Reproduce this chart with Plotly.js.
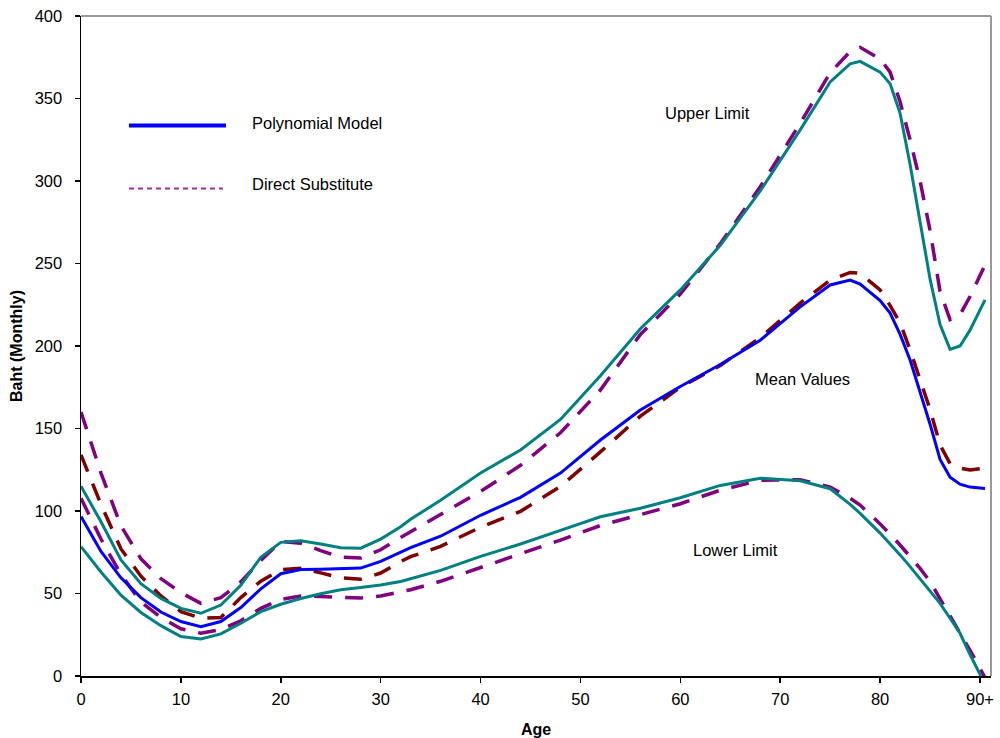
<!DOCTYPE html>
<html>
<head>
<meta charset="utf-8">
<script src="https://cdn.plot.ly/plotly-3.0.1.min.js"></script>
<style>html,body{margin:0;padding:0;background:#fff;}#chart{width:1000px;height:738px;}</style>
</head>
<body>
<div id="chart"></div>
<script>
// Age grid (years)
const ages = [0,2,4,6,8,10,12,14,16,18,20,22,24,26,28,30,32,33,36,40,44,48,52,56,60,64,68,72,75,77,78,80,81,82,83,84,85,86,87,88,89,90.5];

// Polynomial model
const upperPoly = [115,93.5,70.3,56,47,41,38,43,55,72,81,82,80,77.7,77.5,83,90.5,95,106.5,123,137,155.5,182,210.5,234,261,294,331,360,371,372.5,366,359,341,310,276,240.5,213,198,200,209.6,228];
const meanPoly  = [96.6,75.5,59.5,47.5,38.8,33,29.9,33,41.5,52.8,62,64.5,64.7,64.9,65.4,69.5,75,77.8,84.7,97.4,108.3,123,143,161.2,175.5,188.8,203.5,223.7,237,240,237.5,227.5,220,207,191.5,172.4,152.6,131.2,120.5,116.3,114.5,113.7];
const lowerPoly = [78.4,63,49,38.5,30.5,23.9,22.5,25.5,32,39,43.5,47,49.8,52.3,53.6,55.2,57.3,58.9,64,72.5,80,88.3,96.5,101.7,108,115.5,119.9,118.3,113.5,104,98.6,86.6,80.3,73.4,66.3,59,51.5,44,35,25.9,13,-5];

// Direct substitute
const upperDirect = [160,123,91,71,59,50.5,44,47.5,57,70,81.5,80.5,76,72,71.5,76.5,84,87.5,97.5,111.8,127.7,147.4,173.3,207,231.5,262,296.5,335,365.6,378.5,381,374,366,348,325,300,270,233,216,219,230,249];
const meanDirect  = [134,104,77,60.5,48.5,39,35,35.5,47.5,57.5,64.5,65.3,62.5,59.5,58.6,62.4,69.4,72.3,78.6,90.2,99.8,114.9,135.8,157.5,175,188.2,205,226,240,244.6,244,234,224.5,214,197.6,179.6,161.5,140,128.7,126,124.8,126];
const lowerDirect = [107.7,83,61.5,44.8,35.5,28.6,25.9,28.2,33.5,41,46.4,48.5,48.2,47.8,47.2,48.5,50.7,52.3,57.4,65.7,73.9,82.4,91.2,97.8,104.4,112.6,118.6,119,114.5,107.7,103.6,92.2,86,79.4,72.3,65.2,57.2,47,37,26.5,15.6,-1];

const xTickVals = [0,10,20,30,40,50,60,70,80,90];
const xTickText = ['0','10','20','30','40','50','60','70','80','90+'];
const yTickVals = [0,50,100,150,200,250,300,350,400];

const TEAL = '#008080', BLUE = '#0000FF', PURPLE = '#800080', DRED = '#800000';
const dashed = '18px,13px';

function tr(y, color, width, dash, name) {
  return {x: ages, y: y, type: 'scatter', mode: 'lines', name: name, showlegend: false,
          line: {color: color, width: width, dash: dash || 'solid'}, hoverinfo: 'skip'};
}

const data = [
  tr(upperDirect, PURPLE, 3.5, dashed, 'Upper Limit (Direct Substitute)'),
  tr(meanDirect, DRED, 3.5, dashed, 'Mean Values (Direct Substitute)'),
  tr(lowerDirect, PURPLE, 3.5, dashed, 'Lower Limit (Direct Substitute)'),
  tr(upperPoly, TEAL, 3, null, 'Upper Limit (Polynomial Model)'),
  tr(lowerPoly, TEAL, 3, null, 'Lower Limit (Polynomial Model)'),
  tr(meanPoly, BLUE, 3, null, 'Mean Values (Polynomial Model)')
];

const FONT = 'Liberation Sans, Arial, sans-serif';

// helpers to convert pixel positions within the plot area to paper fractions
const L = 81, R = 991, T = 16, B = 676;
const px = v => (v - L) / (R - L);
const py = v => (B - v) / (B - T);

const layout = {
  width: 1000, height: 738,
  margin: {l: L, r: 1000 - R, t: T, b: 738 - B},
  paper_bgcolor: '#fff', plot_bgcolor: '#fff',
  font: {family: FONT, size: 16.5, color: '#000'},
  showlegend: false,
  xaxis: {
    range: [0, 91.1], tickmode: 'array', tickvals: xTickVals, ticktext: xTickText,
    showgrid: false, zeroline: false, showline: true, linecolor: '#000', linewidth: 1.5,
    ticks: 'outside', ticklen: 5, tickwidth: 1.5, tickcolor: '#000', ticklabelstandoff: 3,
    tickfont: {family: FONT, size: 16.5, color: '#000'},
    title: {text: '<b>Age</b>', font: {family: FONT, size: 16, color: '#000'}, standoff: 16}
  },
  yaxis: {
    range: [0, 400], tickmode: 'array', tickvals: yTickVals,
    showgrid: false, zeroline: false, showline: true, linecolor: '#000', linewidth: 1.5,
    ticks: 'outside', ticklen: 5, tickwidth: 1.5, tickcolor: '#000', ticklabelstandoff: 9,
    tickfont: {family: FONT, size: 16.5, color: '#000'},
    title: {text: '<b>Baht (Monthly)</b>', font: {family: FONT, size: 16, color: '#000'}, standoff: 8}
  },
  shapes: [
    // plot area border (top and right)
    {type: 'line', xref: 'paper', yref: 'paper', x0: 0, x1: 1, y0: 1, y1: 1, line: {color: '#999', width: 2}},
    {type: 'line', xref: 'paper', yref: 'paper', x0: 1, x1: 1, y0: 0, y1: 1, line: {color: '#999', width: 2}},
    // legend keys
    {type: 'line', xref: 'paper', yref: 'paper', x0: px(129), x1: px(226), y0: py(125.5), y1: py(125.5), line: {color: BLUE, width: 4}},
    {type: 'line', xref: 'paper', yref: 'paper', x0: px(129), x1: px(223), y0: py(188.5), y1: py(188.5), line: {color: '#993399', width: 2, dash: '5px,4px'}}
  ],
  annotations: [
    {xref: 'paper', yref: 'paper', x: px(250), y: py(123.5), xanchor: 'left', yanchor: 'middle', showarrow: false, text: 'Polynomial Model', font: {family: FONT, size: 16.5, color: '#000'}},
    {xref: 'paper', yref: 'paper', x: px(250), y: py(183.5), xanchor: 'left', yanchor: 'middle', showarrow: false, text: 'Direct Substitute', font: {family: FONT, size: 16.5, color: '#000'}},
    {x: 58.3, y: 341, xanchor: 'left', yanchor: 'middle', showarrow: false, text: 'Upper Limit', font: {family: FONT, size: 16.5, color: '#000'}},
    {x: 67.3, y: 180, xanchor: 'left', yanchor: 'middle', showarrow: false, text: 'Mean Values', font: {family: FONT, size: 16.5, color: '#000'}},
    {x: 61.1, y: 76.5, xanchor: 'left', yanchor: 'middle', showarrow: false, text: 'Lower Limit', font: {family: FONT, size: 16.5, color: '#000'}}
  ]
};

Plotly.newPlot('chart', data, layout, {displayModeBar: false, staticPlot: true});
</script>
</body>
</html>
